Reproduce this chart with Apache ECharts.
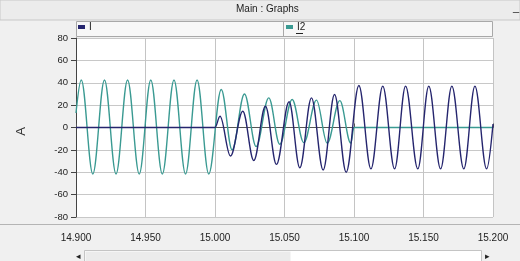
<!DOCTYPE html>
<html>
<head>
<meta charset="utf-8">
<script src="https://cdn.jsdelivr.net/npm/echarts@6/dist/echarts.min.js"></script>
<style>
  html, body { margin: 0; padding: 0; background: #f0f0f0; }
  #main { width: 520px; height: 261px; }
</style>
</head>
<body>
<div id="main"></div>
<script>
// I : peaks / troughs (time in s, current in A)
const iTime = [14.9000, 15.0000, 15.0036, 15.0111, 15.0200, 15.0279, 15.0363, 15.0442, 15.0533,
  15.0610, 15.0694, 15.0778, 15.0860, 15.0944, 15.1035, 15.1122, 15.1207, 15.1292, 15.1371,
  15.1459, 15.1538, 15.1623, 15.1704, 15.1790, 15.1870, 15.1954, 15.2000];
const iVal = [0, 0, 10, -25.5, 14.5, -29.5, 19, -33, 23,
  -36, 26.5, -38, 29.5, -40, 37.5, -37, 37, -37, 37,
  -37, 37, -37, 37, -37, 37, -37, 3];

// I2 : peaks / troughs
const i2Time = [14.9000, 14.9038, 14.9121, 14.9205, 14.9288, 14.9371, 14.9455, 14.9538, 14.9621,
  14.9705, 14.9788, 14.9871, 14.9955, 15.0045, 15.0123, 15.0212, 15.0296, 15.0387, 15.0466,
  15.0555, 15.0639, 15.0730, 15.0807, 15.0898, 15.0977, 15.1000, 15.2000];
const i2Val = [13, 42.5, -41.5, 42.5, -41.5, 42.5, -41.5, 42.5, -41.5,
  42.5, -41.5, 42.5, -41.5, 34, -20, 30, -17, 26.5, -15,
  25, -13.5, 24.5, -14, 24, -14, 0, 0];

const seriesNames = ['I', 'I2'];
const colors = ['#25256e', '#3a9a92'];

const font = '"Liberation Sans", Arial, sans-serif';

const toPairs = (ts, vs) => ts.map((t, k) => [t, vs[k]]);

const chart = echarts.init(document.getElementById('main'), null, { renderer: 'canvas' });

const option = {
  animation: false,
  backgroundColor: '#f0f0f0',
  color: colors,
  textStyle: { fontFamily: font },
  grid: {
    left: 76,
    right: 27,
    top: 38,
    bottom: 44,
    show: true,
    backgroundColor: '#ffffff',
    borderWidth: 0
  },
  legend: [
    {
      data: [seriesNames[0]],
      left: 78,
      top: 22,
      padding: 0,
      icon: 'rect',
      itemWidth: 7,
      itemHeight: 4,
      itemGap: 4,
      textStyle: { fontSize: 10, color: '#222', fontFamily: font, padding: [0, 0, 0, -1] }
    },
    {
      data: [seriesNames[1]],
      left: 286,
      top: 22,
      padding: 0,
      icon: 'rect',
      itemWidth: 7,
      itemHeight: 4,
      itemGap: 4,
      textStyle: { fontSize: 10, color: '#222', fontFamily: font, padding: [0, 0, 0, -1] }
    }
  ],
  xAxis: {
    type: 'value',
    min: 14.9,
    max: 15.2,
    interval: 0.05,
    offset: 11,
    axisLine: { show: true, lineStyle: { color: '#555', width: 1 } },
    axisTick: { show: true, inside: true, length: 4, lineStyle: { color: '#555' } },
    axisLabel: {
      fontSize: 10,
      color: '#222',
      margin: 5,
      fontFamily: font,
      formatter: v => v.toFixed(3)
    },
    splitLine: { show: true, lineStyle: { color: '#c4c4c4', width: 1 } }
  },
  yAxis: {
    type: 'value',
    min: -80,
    max: 80,
    interval: 20,
    name: 'A',
    nameLocation: 'middle',
    nameGap: 48,
    nameRotate: 90,
    nameTextStyle: { fontSize: 13, color: '#333', fontFamily: font, padding: [0, 8, 0, 0] },
    axisLine: { show: true, lineStyle: { color: '#444', width: 1 } },
    axisTick: { show: true, length: 5, lineStyle: { color: '#444' } },
    axisLabel: { fontSize: 9.5, color: '#222', margin: 8, fontFamily: font },
    splitLine: { show: true, lineStyle: { color: '#c8c8c8', width: 1 } }
  },
  graphic: [
    // title bar
    { type: 'rect', shape: { x: 0, y: 0, width: 520, height: 20 }, style: { fill: '#ececec', stroke: '#c8c8c8', lineWidth: 1 }, silent: true, z: -1 },
    { type: 'text', left: 236, top: 4, style: { text: 'Main : Graphs', fontSize: 10, fill: '#222', fontFamily: font } },
    { type: 'text', left: 513, top: 2, style: { text: '_', fontSize: 11, fill: '#222', fontFamily: font } },
    // legend box
    { type: 'rect', shape: { x: 76.5, y: 21.5, width: 416, height: 15 }, style: { fill: '#f7f7f7', stroke: '#a8a8a8', lineWidth: 1 }, silent: true, z: -1 },
    { type: 'line', shape: { x1: 283.5, y1: 21.5, x2: 283.5, y2: 36.5 }, style: { stroke: '#a8a8a8', lineWidth: 1 }, silent: true },
    { type: 'line', shape: { x1: 296, y1: 33.5, x2: 303, y2: 33.5 }, style: { stroke: '#222', lineWidth: 1 }, silent: true },
    // separator above the time axis
    { type: 'line', shape: { x1: 0, y1: 224.5, x2: 520, y2: 224.5 }, style: { stroke: '#b4b4b4', lineWidth: 1 }, silent: true },
    // scroll bar
    { type: 'rect', shape: { x: 84.5, y: 250.5, width: 397, height: 12 }, style: { fill: '#ffffff', stroke: '#c4c4c4', lineWidth: 1 }, silent: true },
    { type: 'rect', shape: { x: 85.5, y: 251.5, width: 205, height: 11 }, style: { fill: '#ebebeb', stroke: null }, silent: true },
    { type: 'text', left: 76, top: 252, style: { text: '◂', fontSize: 9, fill: '#222' } },
    { type: 'text', left: 485, top: 252, style: { text: '▸', fontSize: 9, fill: '#222' } }
  ],
  series: [
    {
      name: seriesNames[0],
      type: 'line',
      data: toPairs(iTime, iVal),
      showSymbol: false,
      smooth: 0.36,
      smoothMonotone: 'x',
      lineStyle: { width: 1.4, color: colors[0] },
      emphasis: { disabled: true },
      z: 3
    },
    {
      name: seriesNames[1],
      type: 'line',
      data: toPairs(i2Time, i2Val),
      showSymbol: false,
      smooth: 0.36,
      smoothMonotone: 'x',
      lineStyle: { width: 1.4, color: colors[1] },
      emphasis: { disabled: true },
      z: 2
    }
  ]
};

chart.setOption(option);
</script>
</body>
</html>
